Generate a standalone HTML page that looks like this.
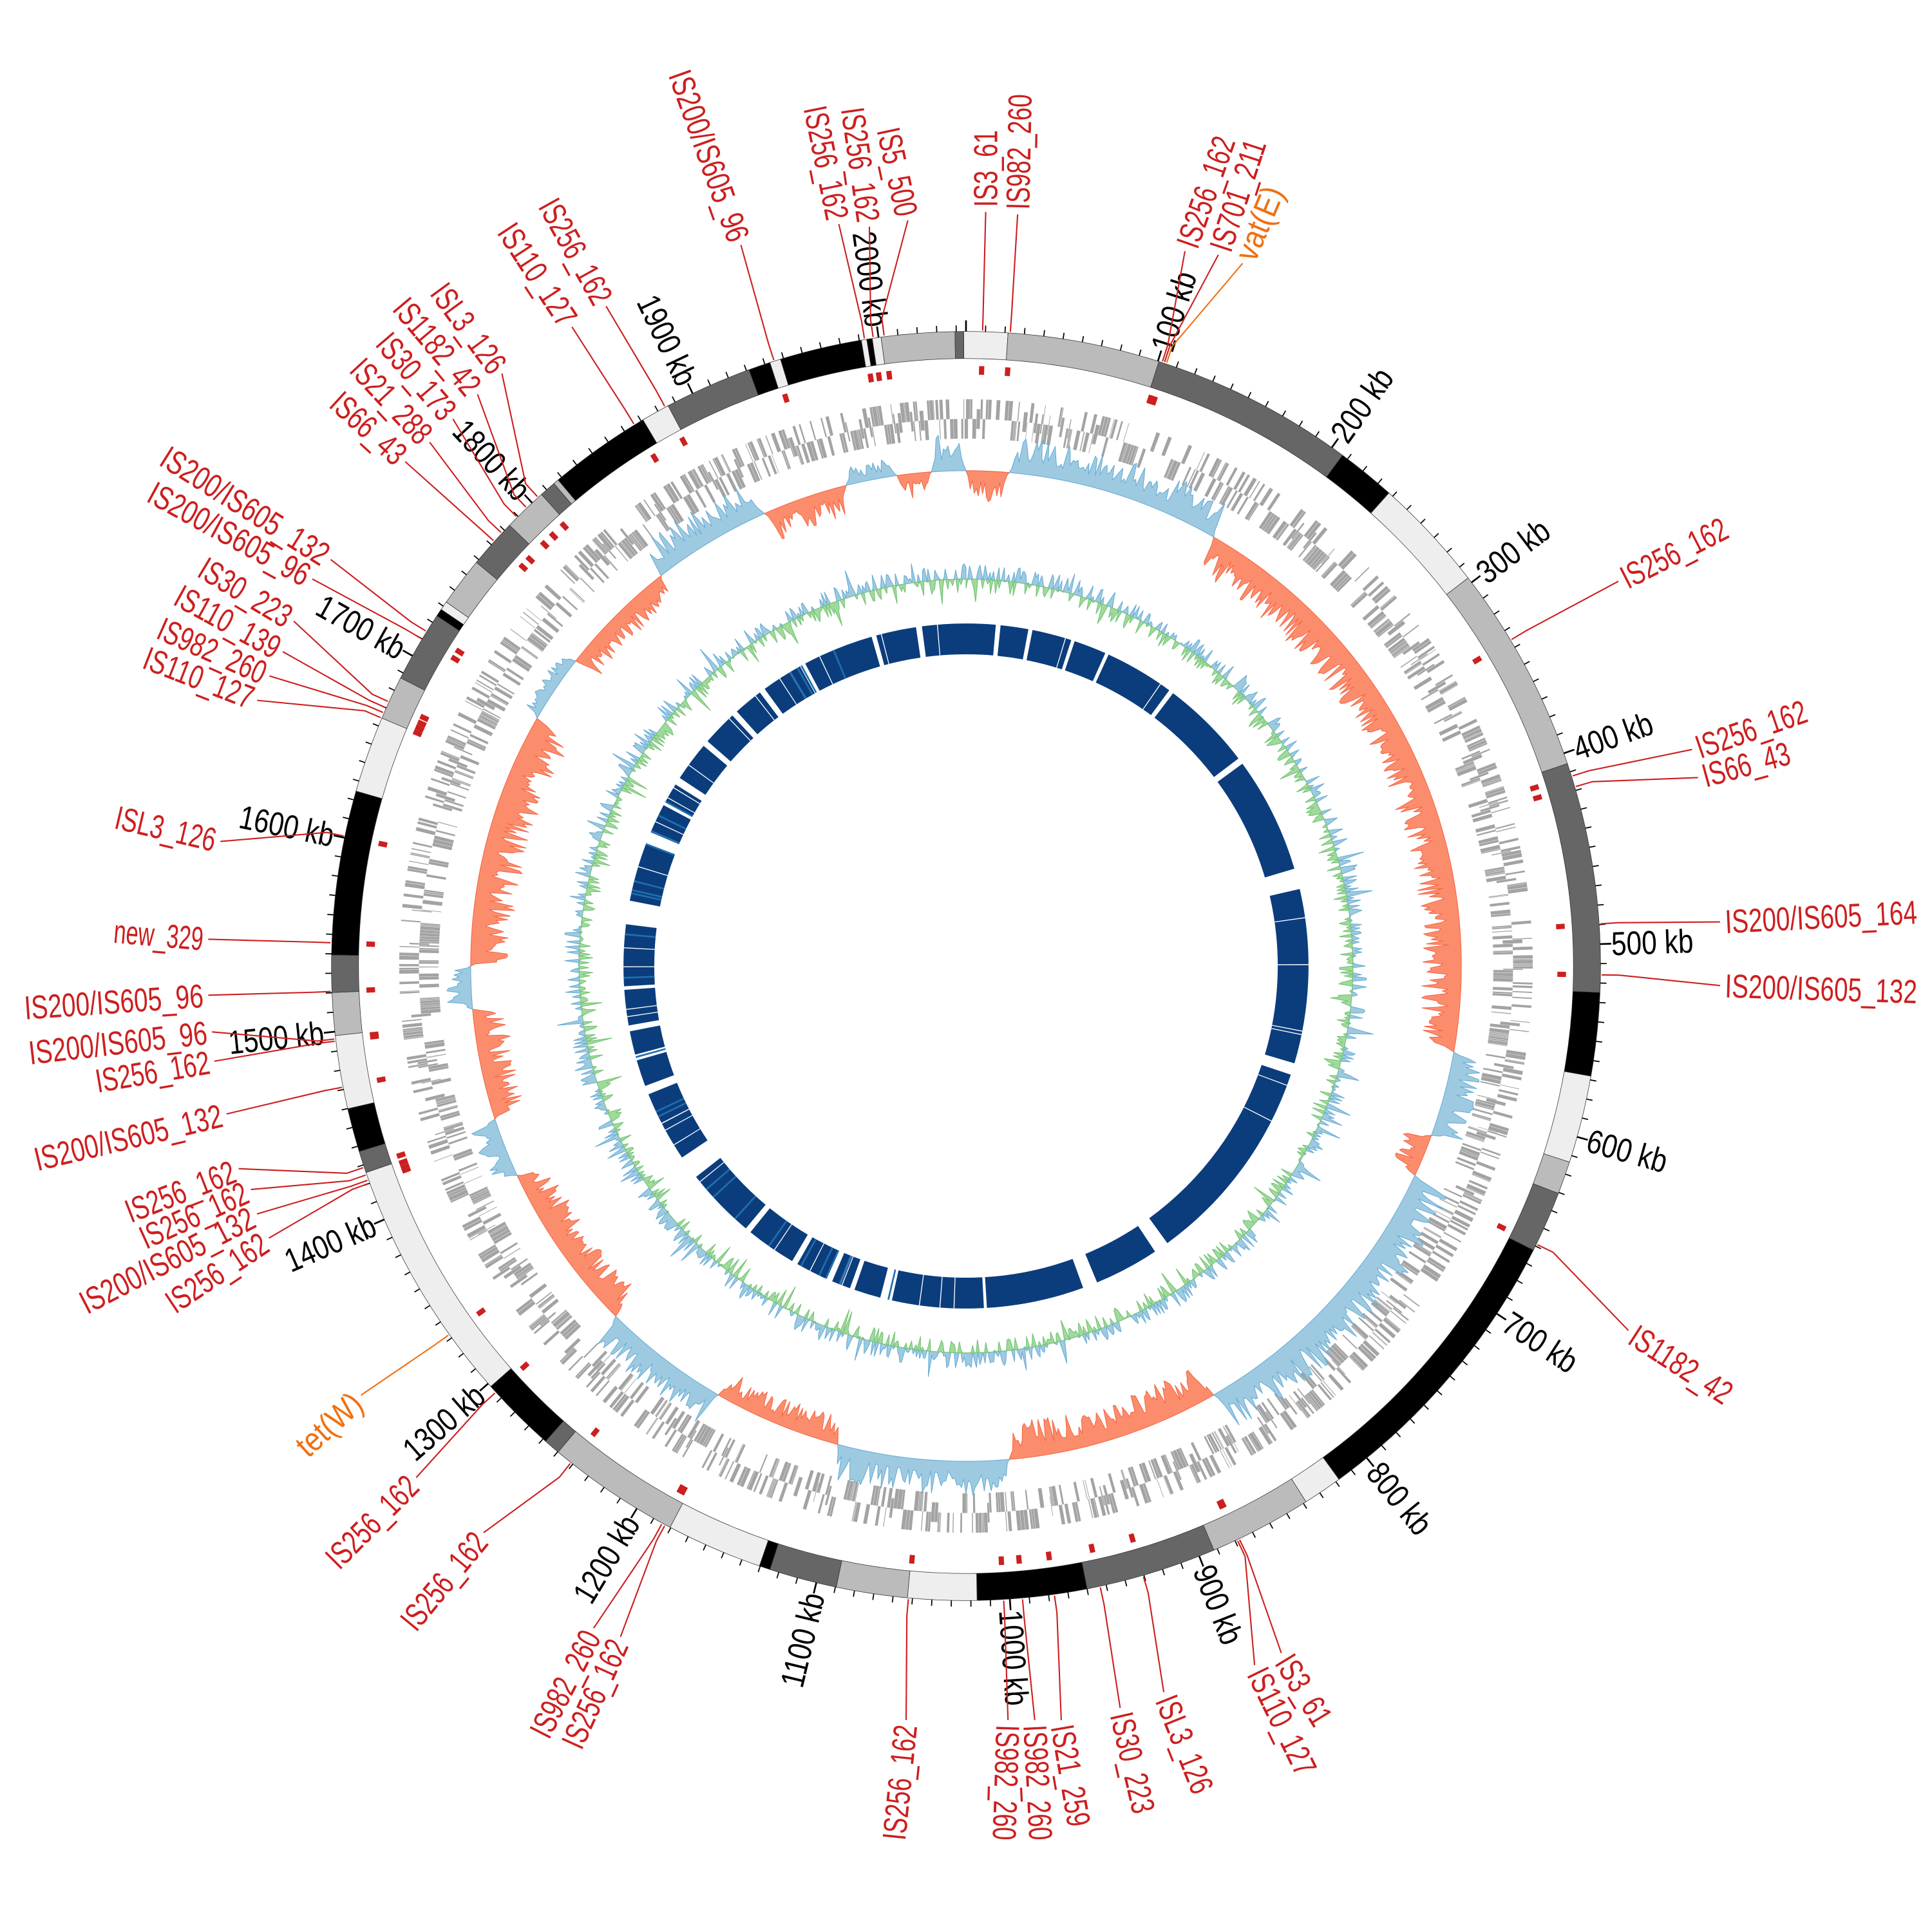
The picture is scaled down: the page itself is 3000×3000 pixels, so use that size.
<!DOCTYPE html>
<html><head><meta charset="utf-8">
<style>
html,body{margin:0;padding:0;background:#fff;}
svg{display:block;}
.lab{font-family:"Liberation Sans Narrow","Liberation Sans",sans-serif;font-size:27px;fill:#cc1f1f;}
.kb{font-family:"Liberation Sans Narrow","Liberation Sans",sans-serif;font-size:27px;fill:#000;}
</style></head>
<body>
<svg id="s" width="3000" height="3000" viewBox="0 0 1568 1568" xmlns="http://www.w3.org/2000/svg">
<g id="tracks"></g>
<g id="labels"></g>
</svg>
<script>
(function(){
var NS="http://www.w3.org/2000/svg";
var cx=784,cy=784,TOT=2045;
function P(r,d){var a=d*Math.PI/180;return [cx+r*Math.sin(a),cy-r*Math.cos(a)];}
function f(v){return v.toFixed(2);}
function pt(p){return f(p[0])+","+f(p[1]);}
function sector(r1,r2,a1,a2){
 var p1=P(r2,a1),p2=P(r2,a2),p3=P(r1,a2),p4=P(r1,a1),lg=(a2-a1)>180?1:0;
 return "M"+pt(p1)+"A"+r2+","+r2+" 0 "+lg+" 1 "+pt(p2)+"L"+pt(p3)+"A"+r1+","+r1+" 0 "+lg+" 0 "+pt(p4)+"Z";
}
function quad(r1,r2,a1,a2){
 return "M"+pt(P(r1,a1))+"L"+pt(P(r2,a1))+"L"+pt(P(r2,a2))+"L"+pt(P(r1,a2))+"Z";
}
var seed=12345;function rnd(){seed|=0;seed=seed+0x6D2B79F5|0;var t=Math.imul(seed^seed>>>15,1|seed);t=t+Math.imul(t^t>>>7,61|t)^t;return((t^t>>>14)>>>0)/4294967296;}
var g=document.getElementById("tracks");
function add(tag,attrs,parent){var e=document.createElementNS(NS,tag);for(var k in attrs)e.setAttribute(k,attrs[k]);(parent||g).appendChild(e);return e;}
function path(d,fill,stroke,sw){return add("path",{d:d,fill:fill,stroke:stroke||"none","stroke-width":sw||0,"stroke-linejoin":"round"});}
function area(base,a0,a1,vals){
 var n=vals.length,step=(a1-a0)/(n-1),d="M"+pt(P(base,a0));
 for(var i=0;i<n;i++)d+="L"+pt(P(base+vals[i],a0+i*step));
 d+="L"+pt(P(base,a1));
 for(var a=a1;a>a0;a-=1)d+="L"+pt(P(base,a));
 return d+"Z";
}

// Karyotype
var L="#eeeeee",G="#bbbbbb",D="#666666",B="#000000";
var segs=[[-7.7,-1,G],[-1,-0.2,D],[-0.2,3.8,L],[3.8,17.7,G],[17.7,36.4,D],[36.4,41.8,B],[41.8,52.3,L],[52.3,71.4,G],[71.4,92.4,D],[92.4,100,B],[100,108,L],[108,111,G],[111,116.6,D],[116.6,144,B],[144,147.6,L],[147.6,157,G],[157,169,D],[169,179,B],[179,185.3,L],[185.3,191.8,G],[191.8,198,D],[198,199,B],[199,207.8,L],[207.8,220,G],[220,221.5,D],[221.5,228.5,B],[228.5,251,L],[251,253,D],[253,257,B],[257,263.7,L],[263.7,267.6,G],[267.6,271,D],[271,286,B],[286,293,L],[293,297,G],[297,303.5,D],[303.5,304.2,B],[304.2,305,L],[305,309.5,G],[309.5,314,D],[314,318,G],[318,319.5,D],[319.5,320,G],[320,329.4,B],[329.4,332,L],[332,340,D],[340,342,B],[342,343,L],[343,350.5,B],[350.5,351,L],[351,351.5,B],[351.5,352.3,L]];
var ro=515,ri=493;
segs.forEach(function(s){path(sector(ri,ro,s[0],s[1]),s[2],"#333",0.4);});
for(var k=0;k<TOT;k+=10){var a=k/TOT*360,maj=(k%100==0);var p=P(ro,a),q=P(ro+(maj?9:5),a);add("line",{x1:f(p[0]),y1:f(p[1]),x2:f(q[0]),y2:f(q[1]),stroke:"#000","stroke-width":maj?1.4:0.9});}

// gene track (dense, staircase-ish)
var gd="";
for(var a=0;a<360;){var w=0.05+rnd()*0.35;var lane=rnd();
 if(rnd()<0.9){var r1,r2;if(lane<0.45){r1=444;r2=460;}else if(lane<0.9){r1=428;r2=444;}else{r1=436;r2=452;}gd+=quad(r1,r2,a,a+w);}
 a+=w+(rnd()<0.1?rnd()*0.8:0.03);}
path(gd,"#a3a3a3");

// GC skew (area)
var reg=[[0,5,-1,25],[5,30,1,30],[30,100,-1,32],[100,110,1,28],[110,115,-1,22],[115,150,1,35],[150,175,-1,30],[175,195,1,28],[195,210,-1,22],[210,225,1,28],[225,245,-1,28],[245,252,1,22],[252,265,-1,28],[265,270,1,20],[270,300,-1,35],[300,308,1,15],[308,322,-1,25],[322,336,1,30],[336,346,-1,25],[346,352,1,15],[352,356,-1,20],[356,360,1,30]];
var sb=402;
reg.forEach(function(R){var vals=[];var n=Math.round((R[1]-R[0])/0.25)+1;
 for(var i=0;i<n;i++){var e=Math.min(i,n-1-i);var env=Math.min(1,e/3);var v=R[3]*(0.3+0.7*Math.pow(rnd(),1.2))*env;vals.push(R[2]*v);}
 if(R[2]>0)path(area(sb,R[0],R[1],vals),"#9ecae1","#6baed6",0.6);else path(area(sb,R[0],R[1],vals),"#fc8d6c","#f4694a",0.6);});

// GC content (area)
var gb=314,vp=[],vn=[];
for(var i=0;i<=1440;i++){var v=(rnd()-0.48)*24;if(rnd()<0.08)v*=1.8;vp.push(Math.max(v,0));vn.push(Math.min(v,0));}
path(area(gb,0,360,vp),"#9ecae1","#6baed6",0.6);
path(area(gb,0,360,vn),"#a1d99b","#74c476",0.6);

// inner ring
var gaps=[[351.6,352.6],[5.0,5.8],[10.5,11.2],[17.9,18.5],[24.0,24.6],[36.4,37.2],[52.7,53.8],[73.5,77],[106.5,108.5],[144,146.5],[157.5,160],[176.5,177],[192.5,194.5],[199,199.8],[203,204],[209.5,210.5],[219,220],[232,236],[248,249.5],[254,255],[259,260],[266,266.6],[277,281],[291,293],[298,298.7],[302,303.3],[310,311],[317,318],[323,324],[331,332],[344,344.8]];
var ring="";gaps.sort(function(a,b){return a[0]-b[0];});
var cur=0;gaps.forEach(function(gp2){if(gp2[0]>cur)ring+=sector(253,278,cur,gp2[0]);cur=gp2[1];});
if(cur<360)ring+=sector(253,278,cur,360);
path(ring,"#0b3d7c");
var wl="";for(var i=0;i<70;i++){var a=rnd()*360;if((a>180&&a<350)||rnd()<0.3){wl+=quad(253,278,a,a+0.15);}}
path(wl,"#ffffff");
var lb="";for(var i=0;i<25;i++){var a=190+rnd()*160;lb+=quad(253,278,a,a+0.3);}
path(lb,"#1f6fb0");
})();
</script>
<script>
(function(){
var NS="http://www.w3.org/2000/svg";var cx=784,cy=784,TOT=2045;
function P(r,d){var a=d*Math.PI/180;return [cx+r*Math.sin(a),cy-r*Math.cos(a)];}
var lg=document.getElementById("labels");
function add(tag,attrs,txt){var e=document.createElementNS(NS,tag);for(var k in attrs)e.setAttribute(k,attrs[k]);if(txt)e.textContent=txt;lg.appendChild(e);return e;}
for(var k=100;k<=2000;k+=100){var a=k/TOT*360;var p=P(524,a);var t=k+" kb";var right=a<180;var rot=right?a-90:a+90;
 add("text",{"class":"kb",x:p[0].toFixed(1),y:p[1].toFixed(1),"text-anchor":right?"start":"end","dominant-baseline":"central",transform:"rotate("+rot.toFixed(2)+" "+p[0].toFixed(1)+" "+p[1].toFixed(1)+")",textLength:(t.length*11.1).toFixed(1),lengthAdjust:"spacingAndGlyphs"},t);}
var R="#cc1f1f",O="#f07010";
var labs=[
["IS3_61",1.5,800,168,800,85,R],["IS982_260",4,826,170,828,70,R],
["IS256_162",18.0,963,200,1000,95,R],["IS701_211",18.2,990,203,1022,105,R],["vat(E)",18.4,1010,210,1035,150,O],
["IS5_500",352.6,736,175,722,110,R],["IS256_162",351.6,705,180,690,75,R],["IS256_162",350.8,680,178,660,80,R],
["IS200/IS605_96",342.4,600,195,550,55,R],["IS256_162",331.7,490,245,440,155,R],["IS110_127",328.5,462,262,405,175,R],
["ISL3_126",317.6,405,300,350,225,R],["IS1182_42",316.2,385,317,322,242,R],["IS30_173",315,365,337,305,267,R],
["IS21_288",313,346,356,282,287,R],["IS66_43",312,326,372,266,317,R],
["IS200/IS605_132",301.8,265,452,130,367,R],["IS200/IS605_96",301,250,468,120,397,R],["IS30_223",294.6,235,502,160,457,R],
["IS110_139",294,226,527,135,477,R],["IS982_260",293.5,215,547,125,507,R],["IS110_127",293,205,567,115,532,R],
["ISL3_126",281.8,175,682,90,662,R],["new_329",272.1,165,762,85,755,R],["IS200/IS605_96",267.7,165,808,20,818,R],
["IS200/IS605_96",263.4,168,838,20,855,R],["IS256_162",263.2,170,862,75,878,R],["IS200/IS605_132",259,180,905,25,942,R],
["IS256_162",251.5,190,950,95,987,R],["IS256_162",250.8,200,967,105,1010,R],["IS200/IS605_132",250.3,205,987,60,1062,R],
["IS256_162",250,215,1007,125,1067,R],["tet(W)",234.5,290,1135,235,1185,O],["IS256_162",227.8,335,1202,260,1277,R],
["IS256_162",218.5,390,1247,320,1332,R],["IS982_260",208.6,480,1325,425,1432,R],["IS256_162",208.3,502,1332,450,1447,R],
["IS256_162",185.2,735,1400,725,1497,R],["IS982_260",176.6,818,1400,815,1497,R],["IS982_260",174.9,840,1400,845,1497,R],
["IS21_259",172,862,1400,877,1487,R],["IS30_223",167.8,910,1390,930,1477,R],["ISL3_126",163.8,946,1377,982,1467,R],
["IS110_127",154.7,1020,1355,1065,1447,R],["IS3_61",154.5,1042,1345,1080,1407,R],
["IS1182_42",116,1325,1082,1410,1137,R],["IS200/IS605_132",90.8,1400,800,1560,805,R],["IS200/IS605_164",86.2,1400,748,1560,740,R],
["IS66_43",73.6,1382,630,1455,610,R],["IS256_162",72.6,1377,607,1470,575,R],["IS256_162",59.1,1317,470,1405,425,R]];
labs.forEach(function(l){
 var a=l[1],xi=l[2],yi=l[3],xo=l[4],yo=l[5],c=l[6];
 var p1=P(516,a),p2=P(530,a);
 var dx=xo-xi,dy=yo-yi,n=Math.sqrt(dx*dx+dy*dy);var ex=xi-dx/n*4,ey=yi-dy/n*4;
 add("polyline",{points:p1[0].toFixed(1)+","+p1[1].toFixed(1)+" "+p2[0].toFixed(1)+","+p2[1].toFixed(1)+" "+ex.toFixed(1)+","+ey.toFixed(1),fill:"none",stroke:c,"stroke-width":1.1});
 var m1=P(480,a-0.25),m2=P(487,a-0.25),m3=P(487,a+0.25),m4=P(480,a+0.25);
 add("path",{d:"M"+m1+"L"+m2+"L"+m3+"L"+m4+"Z",fill:"#cc1f1f"});
 var right=a<180,ang;
 if(right)ang=Math.atan2(dy,dx)*180/Math.PI;else ang=Math.atan2(-dy,-dx)*180/Math.PI;
 var t=l[0];
 add("text",{"class":"lab",x:xi,y:yi,"text-anchor":right?"start":"end","dominant-baseline":"central",style:"fill:"+c,transform:"rotate("+ang.toFixed(2)+" "+xi+" "+yi+")",textLength:(t.length*10.4).toFixed(1),lengthAdjust:"spacingAndGlyphs"},t);
});
})();
</script>
</body></html>
